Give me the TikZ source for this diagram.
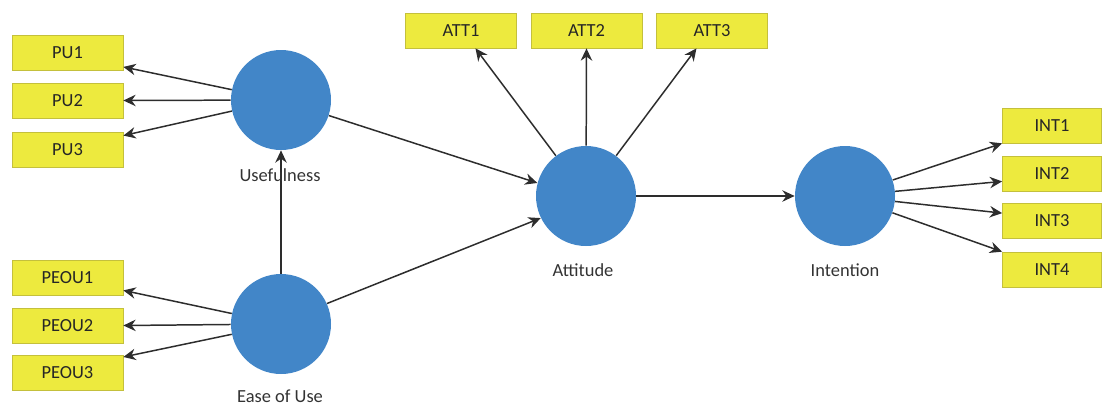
\documentclass[tikz,border=0pt]{standalone}
\usepackage{fontspec}
\setmainfont{Carlito}
\usepackage{xcolor}
\definecolor{myyellow}{RGB}{237,234,62}
\definecolor{myolive}{RGB}{196,192,60}
\definecolor{myblue}{RGB}{66,134,200}
\definecolor{mygray}{RGB}{45,45,45}
\usepackage{tikz}
\usetikzlibrary{arrows.meta}

\begin{document}
\begin{tikzpicture}[font=\fontsize{10.5}{12}\selectfont,
        item/.style={fill=myyellow, draw=myolive, minimum width=2.22cm, minimum height=0.7cm, inner sep=0pt, text=black!85},
        latent/.style={fill=myblue, circle, minimum size=2cm, inner sep=0pt},
        caption/.style={text=black!80}]
        \useasboundingbox (0,0) rectangle (22.06,8.10);
        % indicators
        \begin{scope}[every node/.style={item}]
            \node (PU1) at (1.35,7.04) {PU1};
            \node (PU2) at (1.35,6.09) {PU2};
            \node (PU3) at (1.35,5.11) {PU3};
            \node (PEOU1) at (1.35,2.55) {PEOU1};
            \node (PEOU2) at (1.35,1.59) {PEOU2};
            \node (PEOU3) at (1.35,0.64) {PEOU3};
            \node (ATT1) at (9.22,7.49) {ATT1};
            \node (ATT2) at (11.73,7.49) {ATT2};
            \node (ATT3) at (14.24,7.49) {ATT3};
        \end{scope}
        \begin{scope}[every node/.style={item, minimum width=1.98cm}]
            \node (INT1) at (21.04,5.59) {INT1};
            \node (INT2) at (21.04,4.63) {INT2};
            \node (INT3) at (21.04,3.68) {INT3};
            \node (INT4) at (21.04,2.71) {INT4};
        \end{scope}
        % constructs
        \begin{scope}[every node/.style={latent}]
            \node (U) at (5.62,6.10) {};
            \node (E) at (5.62,1.62) {};
            \node (A) at (11.72,4.18) {};
            \node (I) at (16.90,4.18) {};
        \end{scope}
        \begin{scope}[>={Stealth[length=7pt,width=6.5pt]},
                      every edge/.style={draw=mygray, line width=0.85pt}]
             \path [->] (U) edge (PU1.-14);
             \path [->] (U) edge (PU2.east);
             \path [->] (U) edge (PU3.14);
             \path [->] (E) edge (PEOU1.-13);
             \path [->] (E) edge (PEOU2.east);
             \path [->] (E) edge (PEOU3.16);
             \path [->] (E) edge (U);
             \path [->] (U.-18) edge (A.165);
             \path [->] (E.24) edge (A.206);
             \path [->] (A) edge (ATT1.-51);
             \path [->] (A) edge (ATT2.south);
             \path [->] (A) edge (ATT3.229);
             \path [->] (A) edge (I);
             \path [->] (I) edge (INT1.south west);
             \path [->] (I) edge (INT2.189);
             \path [->] (I) edge (INT3.171);
             \path [->] (I) edge (INT4.north west);
        \end{scope}
        \begin{scope}[every node/.style={caption}]
            \node (Ulbl) at (5.60,4.60) {Usefulness};
            \node (Elbl) at (5.60,0.17) {Ease of Use};
            \node (Albl) at (11.66,2.70) {Attitude};
            \node (Ilbl) at (16.90,2.70) {Intention};
        \end{scope}
\end{tikzpicture}
\end{document}
